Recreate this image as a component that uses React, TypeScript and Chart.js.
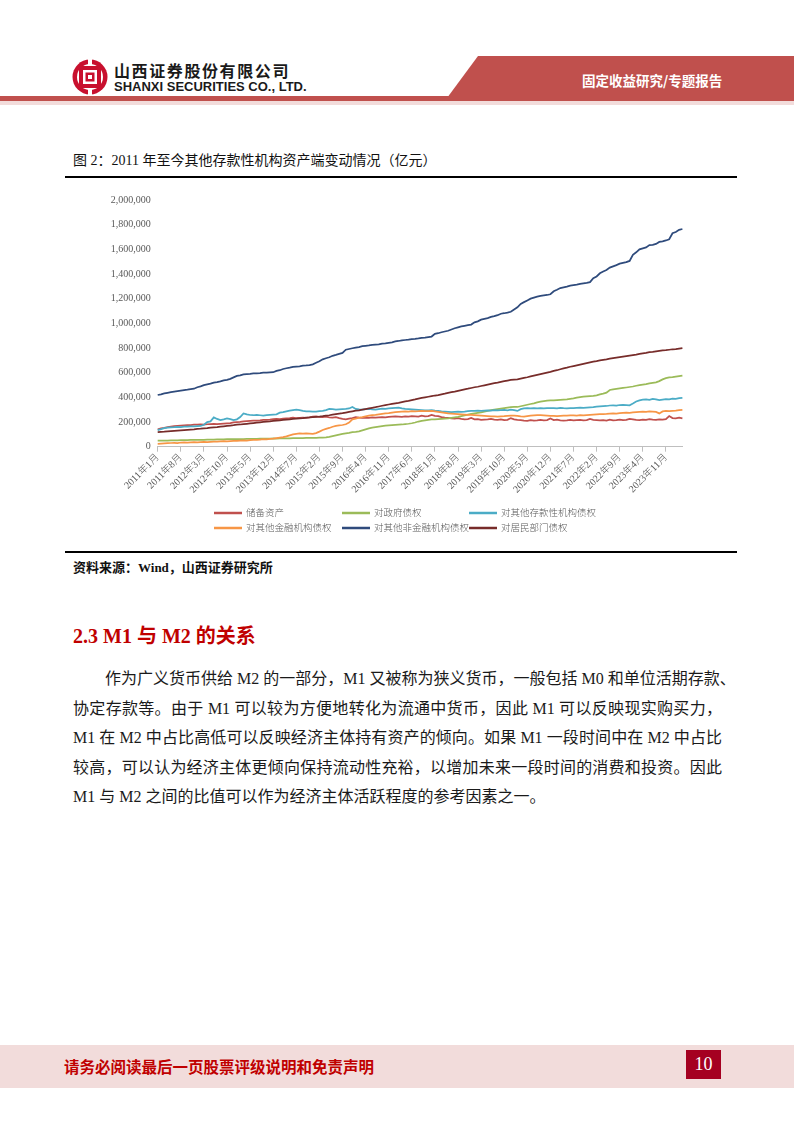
import React, { useEffect, useRef } from 'react';
import { Chart, registerables } from 'chart.js';

Chart.register(...registerables);

// ---------- DATA ----------
const START_YEAR = 2011;
const MONTH_COUNT = 160; // 2011年1月 … 2024年4月
const categories: string[] = [];
for (let i = 0; i < MONTH_COUNT; i++) {
  categories.push(`${START_YEAR + Math.floor(i / 12)}年${(i % 12) + 1}月`);
}
const TICK_EVERY = 7; // 2011年1月, 2011年8月, 2012年3月 ...

const yTickValues = [0, 200000, 400000, 600000, 800000, 1000000, 1200000, 1400000, 1600000, 1800000, 2000000];

const seriesNames = [
  '储备资产',
  '对政府债权',
  '对其他存款性机构债权',
  '对其他金融机构债权',
  '对其他非金融机构债权',
  '对居民部门债权',
];
const seriesColors = ['#C0504D', '#9BBB59', '#4BACC6', '#F79646', '#2F4B7C', '#772C2A'];

// 亿元
const reserveAssets = [
  141000, 148000, 152000, 158000, 162000, 166000, 168000, 170000, 172000, 174000, 175000, 178000,
  178000, 180000, 179000, 182000, 184000, 185000, 183000, 186000, 188000, 190000, 192000, 198000,
  200000, 202000, 205000, 208000, 210000, 212000, 211000, 214000, 218000, 217000, 220000, 224000,
  226000, 224000, 228000, 230000, 232000, 236000, 232000, 234000, 236000, 234000, 238000, 244000,
  246000, 242000, 240000, 243000, 238000, 236000, 240000, 232000, 226000, 222000, 228000, 232000,
  240000, 236000, 234000, 236000, 233000, 238000, 236000, 238000, 240000, 238000, 242000, 244000,
  246000, 244000, 242000, 246000, 244000, 248000, 246000, 244000, 252000, 246000, 248000, 258000,
  250000, 248000, 240000, 236000, 234000, 230000, 228000, 232000, 226000, 222000, 224000, 234000,
  222000, 224000, 218000, 220000, 222000, 226000, 220000, 218000, 222000, 216000, 218000, 232000,
  222000, 218000, 216000, 212000, 210000, 216000, 212000, 214000, 218000, 214000, 216000, 228000,
  216000, 220000, 214000, 212000, 214000, 218000, 214000, 216000, 218000, 214000, 216000, 226000,
  218000, 216000, 214000, 216000, 212000, 220000, 214000, 216000, 220000, 216000, 218000, 226000,
  222000, 218000, 216000, 220000, 218000, 224000, 220000, 218000, 222000, 220000, 224000, 248000,
  232000, 230000, 236000, 230000,
];

const claimsOnGovernment = [
  49000, 49000, 50000, 50000, 51000, 52000, 52000, 53000, 54000, 54000, 55000, 56000,
  55000, 56000, 56000, 57000, 58000, 58000, 59000, 60000, 60000, 61000, 61000, 62000,
  61000, 62000, 62000, 63000, 63000, 64000, 64000, 65000, 65000, 66000, 66000, 67000,
  66000, 67000, 67000, 68000, 68000, 69000, 69000, 70000, 70000, 71000, 71000, 72000,
  72000, 73000, 74000, 76000, 80000, 86000, 92000, 98000, 104000, 108000, 112000, 118000,
  120000, 124000, 132000, 140000, 148000, 154000, 158000, 162000, 166000, 170000, 172000, 174000,
  176000, 178000, 180000, 183000, 186000, 190000, 196000, 204000, 210000, 214000, 218000, 222000,
  222000, 224000, 226000, 228000, 230000, 234000, 238000, 242000, 248000, 254000, 260000, 266000,
  270000, 274000, 278000, 284000, 290000, 296000, 300000, 304000, 308000, 312000, 316000, 320000,
  322000, 322000, 328000, 334000, 340000, 346000, 352000, 360000, 366000, 370000, 374000, 376000,
  376000, 378000, 380000, 382000, 384000, 388000, 392000, 398000, 402000, 406000, 408000, 410000,
  412000, 416000, 424000, 430000, 438000, 460000, 464000, 468000, 472000, 476000, 480000, 484000,
  488000, 494000, 500000, 504000, 508000, 514000, 518000, 522000, 532000, 546000, 556000, 562000,
  564000, 568000, 572000, 576000,
];

const claimsOnOtherDepository = [
  135000, 142000, 150000, 155000, 157000, 158000, 160000, 158000, 162000, 163000, 165000, 164000,
  166000, 168000, 178000, 200000, 205000, 238000, 225000, 216000, 222000, 230000, 224000, 216000,
  222000, 240000, 270000, 262000, 257000, 255000, 258000, 255000, 252000, 256000, 258000, 260000,
  262000, 276000, 280000, 286000, 292000, 297000, 300000, 296000, 290000, 287000, 286000, 284000,
  284000, 288000, 290000, 296000, 306000, 304000, 300000, 302000, 304000, 306000, 310000, 322000,
  306000, 302000, 300000, 304000, 306000, 302000, 300000, 304000, 308000, 306000, 310000, 312000,
  314000, 316000, 310000, 306000, 304000, 302000, 300000, 298000, 296000, 294000, 295000, 296000,
  292000, 290000, 286000, 284000, 282000, 280000, 282000, 284000, 283000, 285000, 288000, 290000,
  290000, 292000, 290000, 292000, 294000, 292000, 296000, 294000, 296000, 298000, 295000, 300000,
  296000, 290000, 304000, 310000, 312000, 310000, 312000, 311000, 312000, 310000, 313000, 312000,
  312000, 310000, 314000, 312000, 311000, 313000, 312000, 314000, 316000, 314000, 316000, 318000,
  320000, 324000, 326000, 328000, 330000, 334000, 336000, 334000, 338000, 340000, 338000, 336000,
  350000, 366000, 376000, 382000, 384000, 380000, 388000, 384000, 378000, 382000, 386000, 384000,
  390000, 388000, 394000, 396000,
];

const claimsOnOtherFinancial = [
  22000, 24000, 26000, 28000, 30000, 32000, 30000, 34000, 36000, 34000, 36000, 38000,
  36000, 38000, 40000, 38000, 40000, 42000, 41000, 44000, 46000, 44000, 46000, 48000,
  48000, 50000, 52000, 50000, 54000, 56000, 55000, 58000, 62000, 60000, 64000, 66000,
  70000, 74000, 78000, 84000, 92000, 100000, 104000, 108000, 106000, 108000, 106000, 104000,
  110000, 122000, 135000, 145000, 152000, 162000, 168000, 172000, 176000, 182000, 195000, 222000,
  228000, 236000, 240000, 246000, 252000, 256000, 258000, 262000, 266000, 270000, 272000, 276000,
  280000, 282000, 284000, 286000, 284000, 288000, 287000, 288000, 290000, 289000, 288000, 290000,
  286000, 282000, 278000, 274000, 270000, 268000, 266000, 264000, 262000, 260000, 258000, 258000,
  256000, 254000, 252000, 250000, 248000, 246000, 245000, 244000, 246000, 247000, 250000, 252000,
  252000, 250000, 246000, 244000, 248000, 252000, 254000, 256000, 255000, 254000, 252000, 250000,
  250000, 248000, 250000, 252000, 251000, 253000, 254000, 252000, 255000, 254000, 256000, 258000,
  260000, 262000, 264000, 265000, 266000, 268000, 270000, 269000, 272000, 274000, 276000, 275000,
  278000, 280000, 282000, 284000, 282000, 286000, 284000, 282000, 270000, 286000, 290000, 288000,
  290000, 292000, 296000, 298000,
];

const claimsOnNonFinancial = [
  419000, 425000, 432000, 437000, 442000, 447000, 451000, 455000, 459000, 462000, 466000, 470000,
  482000, 489000, 499000, 505000, 511000, 520000, 524000, 530000, 538000, 542000, 550000, 562000,
  574000, 578000, 586000, 589000, 591000, 594000, 595000, 597000, 600000, 600000, 602000, 604000,
  614000, 620000, 630000, 636000, 641000, 647000, 650000, 652000, 657000, 659000, 662000, 668000,
  680000, 692000, 708000, 717000, 725000, 737000, 744000, 752000, 760000, 786000, 792000, 798000,
  804000, 808000, 815000, 818000, 821000, 826000, 828000, 830000, 836000, 838000, 842000, 846000,
  853000, 857000, 862000, 865000, 868000, 873000, 875000, 878000, 882000, 885000, 889000, 893000,
  915000, 920000, 928000, 934000, 940000, 950000, 960000, 968000, 975000, 980000, 985000, 990000,
  1008000, 1016000, 1030000, 1036000, 1042000, 1052000, 1058000, 1066000, 1078000, 1082000, 1087000, 1094000,
  1112000, 1130000, 1158000, 1172000, 1186000, 1200000, 1208000, 1216000, 1222000, 1226000, 1230000, 1236000,
  1260000, 1272000, 1286000, 1292000, 1298000, 1306000, 1310000, 1314000, 1320000, 1324000, 1328000, 1334000,
  1366000, 1380000, 1406000, 1420000, 1432000, 1452000, 1462000, 1472000, 1484000, 1490000, 1496000, 1506000,
  1556000, 1576000, 1600000, 1608000, 1616000, 1634000, 1636000, 1644000, 1660000, 1664000, 1672000, 1682000,
  1730000, 1740000, 1758000, 1765000,
];

const claimsOnHouseholds = [
  118000, 120000, 122000, 125000, 127000, 129000, 131000, 133000, 135000, 137000, 139000, 141000,
  144000, 146000, 149000, 151000, 154000, 157000, 159000, 162000, 165000, 168000, 171000, 174000,
  178000, 180000, 183000, 186000, 189000, 192000, 195000, 198000, 201000, 204000, 206000, 209000,
  212000, 214000, 217000, 220000, 222000, 225000, 227000, 230000, 232000, 235000, 237000, 240000,
  242000, 244000, 247000, 251000, 255000, 260000, 264000, 268000, 272000, 277000, 282000, 287000,
  292000, 295000, 300000, 305000, 310000, 315000, 320000, 326000, 332000, 337000, 342000, 347000,
  352000, 356000, 362000, 367000, 372000, 378000, 383000, 389000, 395000, 400000, 405000, 410000,
  415000, 419000, 425000, 430000, 436000, 442000, 447000, 453000, 459000, 465000, 470000, 476000,
  482000, 486000, 492000, 498000, 504000, 510000, 515000, 520000, 526000, 531000, 536000, 541000,
  544000, 546000, 552000, 558000, 563000, 570000, 576000, 582000, 588000, 594000, 600000, 606000,
  614000, 620000, 628000, 635000, 641000, 648000, 654000, 660000, 666000, 672000, 678000, 684000,
  690000, 694000, 700000, 704000, 708000, 714000, 718000, 722000, 726000, 730000, 734000, 738000,
  742000, 746000, 752000, 756000, 760000, 766000, 768000, 772000, 776000, 780000, 782000, 786000,
  790000, 792000, 796000, 800000,
];

const seriesValues = [
  reserveAssets,
  claimsOnGovernment,
  claimsOnOtherDepository,
  claimsOnOtherFinancial,
  claimsOnNonFinancial,
  claimsOnHouseholds,
];

// ---------- TEXT ----------
const figureTitle = '图 2：2011 年至今其他存款性机构资产端变动情况（亿元）';
const sourceNote = '资料来源：Wind，山西证券研究所';
const sectionTitle = '2.3 M1 与 M2 的关系';
const paragraphLines = [
  '作为广义货币供给 M2 的一部分，M1 又被称为狭义货币，一般包括 M0 和单位活期存款、',
  '协定存款等。由于 M1 可以较为方便地转化为流通中货币，因此 M1 可以反映现实购买力，',
  'M1 在 M2 中占比高低可以反映经济主体持有资产的倾向。如果 M1 一段时间中在 M2 中占比',
  '较高，可以认为经济主体更倾向保持流动性充裕，以增加未来一段时间的消费和投资。因此',
  'M1 与 M2 之间的比值可以作为经济主体活跃程度的参考因素之一。',
];

const SERIF = '"Liberation Serif", "Times New Roman", "Noto Sans CJK SC", serif';
const CHART_FONT = '"Liberation Serif", "Noto Sans CJK SC", serif';

const CANVAS_W = 672;
const CANVAS_H = 370;
const LEGEND_COLS = [149, 277, 404];
const LEGEND_ROWS = [333, 348];

const gridLegend = {
  id: 'gridLegend',
  afterDraw(chart: any) {
    const ctx = chart.ctx;
    ctx.save();
    ctx.font = `300 9.5px ${CHART_FONT}`;
    ctx.textBaseline = 'middle';
    chart.data.datasets.forEach((ds: any, i: number) => {
      const x = LEGEND_COLS[i % 3];
      const y = LEGEND_ROWS[Math.floor(i / 3)];
      ctx.strokeStyle = ds.borderColor;
      ctx.lineWidth = 2.5;
      ctx.beginPath();
      ctx.moveTo(x, y);
      ctx.lineTo(x + 28, y);
      ctx.stroke();
      ctx.fillStyle = '#595959';
      ctx.fillText(ds.label, x + 32, y + 0.5);
    });
    ctx.restore();
  },
};

function LineChart() {
  const ref = useRef<HTMLCanvasElement | null>(null);
  useEffect(() => {
    if (!ref.current) return;
    const chart = new Chart(ref.current, {
      type: 'line',
      data: {
        labels: categories,
        datasets: seriesValues.map((vals, i) => ({
          label: seriesNames[i],
          data: vals,
          borderColor: seriesColors[i],
          backgroundColor: seriesColors[i],
          borderWidth: 1.75,
          pointRadius: 0,
          tension: 0,
          fill: false,
          order: seriesValues.length - i,
        })),
      },
      options: {
        responsive: false,
        animation: false,
        devicePixelRatio: 1,
        layout: { padding: { top: 20, right: 54.6, bottom: 53.3, left: 0 } },
        plugins: { legend: { display: false }, tooltip: { enabled: false } },
        scales: {
          x: {
            type: 'category',
            offset: false,
            grid: {
              offset: false,
              drawOnChartArea: false,
              drawTicks: true,
              tickLength: 5,
              color: (c: any) => (c.index % TICK_EVERY === 0 ? '#BFBFBF' : 'rgba(0,0,0,0)'),
            },
            border: { display: true, color: '#BFBFBF', width: 1 },
            ticks: {
              autoSkip: false,
              maxRotation: 45,
              minRotation: 45,
              padding: 0,
              color: '#595959',
              font: { family: CHART_FONT, size: 10, weight: 300 },
              callback: (_v: any, idx: number) => (idx % TICK_EVERY === 0 ? categories[idx] : ''),
            },
            afterFit: (s: any) => {
              s.height = 50;
            },
          },
          y: {
            min: 0,
            max: 2000000,
            afterBuildTicks: (s: any) => {
              s.ticks = yTickValues.map((v) => ({ value: v }));
            },
            grid: { display: false, drawTicks: false },
            border: { display: false },
            ticks: {
              padding: 7,
              color: '#595959',
              font: { family: CHART_FONT, size: 10 },
              callback: (v: any) => Number(v).toLocaleString('en-US'),
            },
            afterFit: (s: any) => {
              s.width = 92.7;
            },
          },
        },
      },
      plugins: [gridLegend],
    } as any);
    return () => chart.destroy();
  }, []);
  return <canvas ref={ref} width={CANVAS_W} height={CANVAS_H} style={{ width: CANVAS_W, height: CANVAS_H, display: 'block' }} />;
}

function Logo() {
  return (
    <svg width={38} height={42} viewBox="0 0 38 42" style={{ position: 'absolute', left: 71, top: 56 }}>
      <circle cx={19} cy={21} r={17.5} fill="#C8102E" />
      <circle cx={19} cy={21} r={13} fill="#fff" />
      <rect x={8} y={10} width={22} height={4} fill="#C8102E" />
      <rect x={8} y={28} width={22} height={4} fill="#C8102E" />
      <rect x={8} y={10} width={4} height={22} fill="#C8102E" />
      <rect x={26} y={10} width={4} height={22} fill="#C8102E" />
      <rect x={14.5} y={16.5} width={9} height={9} fill="#C8102E" />
      <rect x={17} y={19} width={4} height={4} fill="#fff" />
      <rect x={17} y={2} width={4} height={8} fill="#fff" />
      <rect x={17} y={32} width={4} height={8} fill="#fff" />
    </svg>
  );
}

export default function App() {
  const abs = (s: React.CSSProperties): React.CSSProperties => ({ position: 'absolute', ...s });
  return (
    <div style={{ position: 'absolute', left: 0, top: 0, width: 794, height: 1123, background: '#fff', overflow: 'hidden' }}>
      {/* header */}
      <svg width={794} height={110} style={{ position: 'absolute', left: 0, top: 0 }}>
        <polygon points="478,56 794,56 794,98 447,98" fill="#C0504D" />
        <rect x={0} y={96} width={794} height={5} fill="#C0504D" />
        <rect x={0} y={101} width={794} height={4} fill="#F2DCDB" />
      </svg>
      <Logo />
      <div style={abs({ left: 114, top: 60, fontFamily: '"Noto Sans CJK SC", sans-serif', fontWeight: 700, fontSize: 16, letterSpacing: 1.6, color: '#1a1a1a', whiteSpace: 'nowrap', lineHeight: '20px' })}>
        山西证券股份有限公司
      </div>
      <div style={abs({ left: 114, top: 80, fontFamily: '"Liberation Sans Narrow", "Liberation Sans", Arial, sans-serif', fontWeight: 700, fontSize: 13, color: '#1a1a1a', whiteSpace: 'nowrap', lineHeight: '14px' })}>
        SHANXI SECURITIES CO., LTD.
      </div>
      <div style={abs({ left: 582, top: 71, fontFamily: '"Noto Sans CJK SC", sans-serif', fontWeight: 700, fontSize: 13.5, color: '#fff', whiteSpace: 'nowrap', lineHeight: '18px' })}>
        固定收益研究/专题报告
      </div>

      {/* figure title */}
      <div style={abs({ left: 73, top: 152, fontFamily: SERIF, fontSize: 14, color: '#111', whiteSpace: 'nowrap', lineHeight: '18px' })}>
        {figureTitle}
      </div>
      <div style={abs({ left: 65, top: 176, width: 672, height: 1.5, background: '#000' })} />

      {/* chart */}
      <div style={abs({ left: 65, top: 180, width: CANVAS_W, height: CANVAS_H })}>
        <LineChart />
      </div>

      <div style={abs({ left: 65, top: 551, width: 672, height: 1.5, background: '#000' })} />
      <div style={abs({ left: 73, top: 559, fontFamily: SERIF, fontSize: 13, fontWeight: 700, color: '#111', whiteSpace: 'nowrap', lineHeight: '18px' })}>
        {sourceNote}
      </div>

      {/* section */}
      <div style={abs({ left: 73, top: 623, fontFamily: SERIF, fontSize: 20, fontWeight: 700, color: '#C00000', whiteSpace: 'nowrap', lineHeight: '26px' })}>
        {sectionTitle}
      </div>
      {paragraphLines.map((line, i) => {
        const last = i === paragraphLines.length - 1;
        const left = i === 0 ? 105 : 73;
        return (
          <div
            key={i}
            style={abs({
              left,
              top: 668 + i * 29.5,
              width: last ? 660 : 722 - left,
              fontFamily: SERIF,
              fontSize: 16,
              color: '#1a1a1a',
              lineHeight: '22px',
              whiteSpace: 'nowrap',
              textAlign: last ? 'left' : 'justify',
              textAlignLast: last ? 'left' : 'justify',
            } as React.CSSProperties)}
          >
            {line}
          </div>
        );
      })}

      {/* footer */}
      <div style={abs({ left: 0, top: 1045, width: 794, height: 43, background: '#F2DCDB' })} />
      <div style={abs({ left: 64, top: 1056, fontFamily: '"Noto Sans CJK SC", sans-serif', fontWeight: 700, fontSize: 15.5, color: '#C00000', whiteSpace: 'nowrap', lineHeight: '20px' })}>
        请务必阅读最后一页股票评级说明和免责声明
      </div>
      <div style={abs({ left: 686, top: 1050, width: 35, height: 29, background: '#A50021', color: '#fff', fontFamily: SERIF, fontSize: 18, lineHeight: '29px', textAlign: 'center' })}>
        10
      </div>
    </div>
  );
}
